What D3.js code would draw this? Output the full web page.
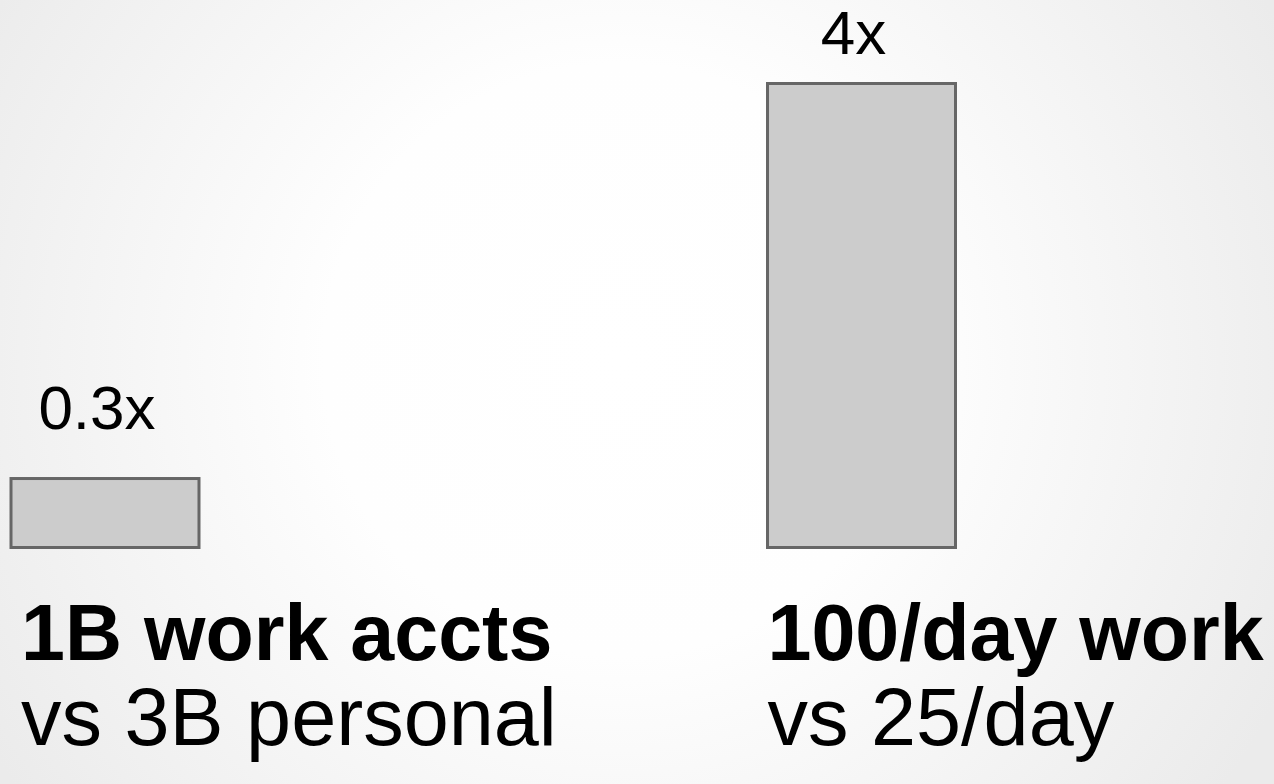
<!DOCTYPE html>
<html>
<head>
<meta charset="utf-8">
<script src="https://cdn.jsdelivr.net/npm/d3@7"></script>
<style>
  html, body { margin: 0; padding: 0; overflow: hidden; }
  text { font-family: "Liberation Sans", Arial, sans-serif; fill: #000; }
</style>
</head>
<body>
<div id="chart-container"></div>
<script>
const categories = ["work accts", "work per day"],
    values = [0.3, 4],
    valueLabels = ["0.3x", "4x"],
    titles = ["1B work accts", "100/day work"],
    subtitles = ["vs 3B personal", "vs 25/day"];

const svgWidth = 1274,
    svgHeight = 784;

const svg = d3.select("#chart-container").append("svg")
    .attr("width", svgWidth)
    .attr("height", svgHeight);

// background gradient
const grad = svg.append("defs").append("radialGradient")
    .attr("id", "bg")
    .attr("gradientUnits", "userSpaceOnUse")
    .attr("cx", 620).attr("cy", 360).attr("r", 740);
grad.append("stop").attr("offset", "0%").attr("stop-color", "#ffffff");
grad.append("stop").attr("offset", "40%").attr("stop-color", "#fefefe");
grad.append("stop").attr("offset", "100%").attr("stop-color", "#ebebeb");

svg.append("rect")
    .attr("width", svgWidth)
    .attr("height", svgHeight)
    .attr("fill", "url(#bg)");

// scales
const xScale = d3.scaleBand()
    .domain(categories)
    .range([11, 955.5])
    .paddingInner(0.7515)
    .paddingOuter(0);

const yScale = d3.scaleLinear()
    .domain([-0.346, 4])
    .range([547.5, 83.5]);

const data = categories.map((c, i) => ({
    cat: c, value: values[i], label: valueLabels[i],
    title: titles[i], sub: subtitles[i]
}));

// bars
svg.selectAll("rect.bar")
    .data(data)
    .join("rect")
    .attr("class", "bar")
    .attr("x", d => xScale(d.cat))
    .attr("y", d => yScale(d.value))
    .attr("width", xScale.bandwidth())
    .attr("height", d => yScale.range()[0] - yScale(d.value))
    .attr("fill", "#cccccc")
    .attr("stroke", "#666666")
    .attr("stroke-width", 3);

// value labels
svg.selectAll("text.value")
    .data(data)
    .join("text")
    .attr("class", "value")
    .attr("x", d => xScale(d.cat) + xScale.bandwidth() / 2 - 8)
    .attr("y", (d, i) => yScale(d.value) - (i === 0 ? 50 : 30))
    .attr("text-anchor", "middle")
    .attr("font-size", 62)
    .text(d => d.label);

// category labels (left column sits a little further in)
const textX = (d, i) => xScale(d.cat) + (i === 0 ? 10 : 0);

svg.selectAll("text.title")
    .data(data)
    .join("text")
    .attr("class", "title")
    .attr("x", textX)
    .attr("y", 660)
    .attr("font-size", 79)
    .attr("font-weight", "bold")
    .text(d => d.title);

svg.selectAll("text.sub")
    .data(data)
    .join("text")
    .attr("class", "sub")
    .attr("x", textX)
    .attr("y", 745)
    .attr("font-size", 81)
    .text(d => d.sub);
</script>
</body>
</html>
